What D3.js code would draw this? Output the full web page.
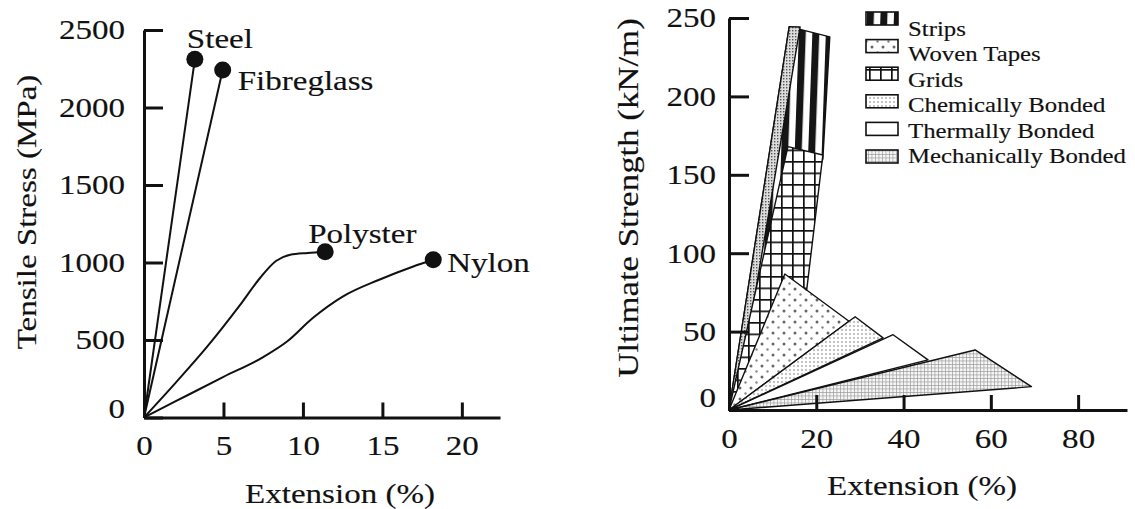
<!DOCTYPE html>
<html>
<head>
<meta charset="utf-8">
<script src="https://cdn.jsdelivr.net/npm/d3@7"></script>
<style>
  body { margin: 0; background: #fff; }
  svg { display: block; }
  .axis path, .axis line { stroke: #111; stroke-width: 3; }
</style>
</head>
<body>
<svg id="chart" width="1135" height="509"></svg>
<script>
// ---- data ----
// left panel: tensile stress (MPa) against extension (%)
const fibreNames = ["Steel", "Fibreglass", "Polyster", "Nylon"];
const steelCurve = [[0, 0], [3.2, 2311]];
const fibreglassCurve = [[0, 0], [4.95, 2242]];
const polysterCurve = [[0, 0], [2, 225], [4, 460], [6, 720], [7.3, 900], [8.3, 1010],
                       [9.2, 1050], [10.3, 1062], [11.4, 1070]];
const nylonCurve = [[0, 0], [2, 105], [5, 262], [7.5, 390], [9, 490], [10.6, 640],
                    [12.5, 780], [14.8, 889], [16.9, 973], [18.2, 1018]];
const stressTicks = [0, 500, 1000, 1500, 2000, 2500];
const extTicksL = [0, 5, 10, 15, 20];

// right panel: ultimate strength (kN/m) against extension (%)
const productNames = ["Strips", "Woven Tapes", "Grids", "Chemically Bonded",
                      "Thermally Bonded", "Mechanically Bonded"];
const stripsShape = [[0, 0], [13.8, 244.5], [23.1, 238], [21.5, 160]];
const stripsEdge = [[0, 0], [13.8, 244.5], [16.3, 244.3], [1.5, 0]];
const gridsShape = [[0, 0], [13.5, 168], [21.5, 162.6], [17.8, 76.5]];
const wovenShape = [[0, 0], [12.8, 86.7], [27.5, 56.6]];
const chemShape = [[0, 0], [28.9, 59.5], [35.3, 46]];
const thermShape = [[0, 0], [37.6, 48], [45.6, 32]];
const mechShape = [[0, 0], [56.4, 38.3], [69.3, 14.9]];
const strengthTicks = [0, 50, 100, 150, 200, 250];
const extTicksR = [0, 20, 40, 60, 80];

// ---- setup ----
const svg = d3.select("#chart");
const FONT = "'Liberation Serif', 'Times New Roman', serif";
const STRETCH = 1.18;   // the print face is wider than Times
const INK = "#111";

// put a text node in place, widened along its own direction
function stretch(sel) {
  sel.each(function() {
    const t = d3.select(this);
    const x = +t.attr("x") || 0, y = +t.attr("y") || 0;
    t.attr("x", 0).attr("y", 0)
      .attr("transform", `translate(${x},${y}) scale(${STRETCH},1)`);
  });
}

function label(parent, text, x, y, size, anchor, rot) {
  return parent.append("text")
      .text(text)
      .attr("transform", `translate(${x},${y}) rotate(${rot || 0}) scale(${STRETCH},1)`)
      .attr("text-anchor", anchor || "start")
      .attr("font-family", FONT)
      .attr("font-size", size)
      .attr("fill", INK)
      .attr("stroke", INK)
      .attr("stroke-width", 0.15);
}

function styleAxis(g, size) {
  g.attr("class", "axis");
  g.selectAll("text")
      .attr("font-family", FONT)
      .attr("font-size", size)
      .attr("fill", INK)
      .attr("stroke", INK)
      .attr("stroke-width", 0.15)
      .call(stretch);
}

// ---- patterns ----
const defs = svg.append("defs");

const pStrips = defs.append("pattern").attr("id", "p-strips")
    .attr("patternUnits", "userSpaceOnUse").attr("x", 800).attr("y", 0)
    .attr("width", 13.5).attr("height", 10)
    .attr("patternTransform", "skewX(-2)");
pStrips.append("rect").attr("width", 13.5).attr("height", 10).attr("fill", "#fff");
pStrips.append("rect").attr("width", 7).attr("height", 10).attr("fill", "#151515");

const pEdge = defs.append("pattern").attr("id", "p-edge")
    .attr("patternUnits", "userSpaceOnUse").attr("width", 3).attr("height", 3);
pEdge.append("rect").attr("width", 3).attr("height", 3).attr("fill", "#ddd");
pEdge.append("rect").attr("width", 1.4).attr("height", 1.4).attr("fill", "#555");

const pGrid = defs.append("pattern").attr("id", "p-grids")
    .attr("patternUnits", "userSpaceOnUse").attr("width", 11).attr("height", 11.5);
pGrid.append("rect").attr("width", 11).attr("height", 11.5).attr("fill", "#fff");
pGrid.append("path").attr("d", "M0,0.8H11M0.8,0V11.5")
    .attr("stroke", "#111").attr("stroke-width", 1.8);

const pWoven = defs.append("pattern").attr("id", "p-woven")
    .attr("patternUnits", "userSpaceOnUse").attr("width", 11).attr("height", 11);
pWoven.append("rect").attr("width", 11).attr("height", 11).attr("fill", "#fff");
pWoven.append("circle").attr("cx", 3).attr("cy", 3).attr("r", 1.5).attr("fill", "#666");
pWoven.append("circle").attr("cx", 8.5).attr("cy", 8.5).attr("r", 1.2).attr("fill", "#888");

const pChem = defs.append("pattern").attr("id", "p-chem")
    .attr("patternUnits", "userSpaceOnUse").attr("width", 4).attr("height", 4);
pChem.append("rect").attr("width", 4).attr("height", 4).attr("fill", "#fff");
pChem.append("circle").attr("cx", 2).attr("cy", 2).attr("r", 0.8).attr("fill", "#777");

const pMech = defs.append("pattern").attr("id", "p-mech")
    .attr("patternUnits", "userSpaceOnUse").attr("width", 3.5).attr("height", 3.5);
pMech.append("rect").attr("width", 3.5).attr("height", 3.5).attr("fill", "#f6f6f6");
pMech.append("path").attr("d", "M0,0.4H3.5M0.4,0V3.5")
    .attr("stroke", "#999").attr("stroke-width", 0.7);

const fills = {
  "Strips": "url(#p-strips)",
  "Woven Tapes": "url(#p-woven)",
  "Grids": "url(#p-grids)",
  "Chemically Bonded": "url(#p-chem)",
  "Thermally Bonded": "#fff",
  "Mechanically Bonded": "url(#p-mech)"
};

const fmt = d3.format("d");

// ================= left panel =================
const xL = d3.scaleLinear().domain([0, 22.4]).range([144, 500]);
const yL = d3.scaleLinear().domain([0, 2500]).range([417.5, 30]);

const left = svg.append("g").attr("id", "left");

const lineL = d3.line().x(d => xL(d[0])).y(d => yL(d[1])).curve(d3.curveMonotoneX);
const curves = [steelCurve, fibreglassCurve, polysterCurve, nylonCurve];

left.selectAll("path.curve")
  .data(curves)
    .enter()
  .append("path")
    .attr("class", "curve")
    .attr("d", lineL)
    .attr("fill", "none")
    .attr("stroke", INK)
    .attr("stroke-width", 2);

left.selectAll("circle.end")
  .data(curves.map(c => c[c.length - 1]))
    .enter()
  .append("circle")
    .attr("class", "end")
    .attr("cx", d => xL(d[0]))
    .attr("cy", d => yL(d[1]))
    .attr("r", 8.5)
    .attr("fill", INK);

// name offsets from each end point
const nameOffset = {
  "Steel": [-8, -11, "start"],
  "Fibreglass": [15, 20, "start"],
  "Polyster": [-17, -9, "start"],
  "Nylon": [14, 12, "start"]
};
fibreNames.forEach((n, i) => {
  const end = curves[i][curves[i].length - 1];
  const o = nameOffset[n];
  label(left, n, xL(end[0]) + o[0], yL(end[1]) + o[1], 28, o[2]);
});

left.append("g")
    .attr("transform", `translate(${xL(0)},0)`)
    .call(d3.axisLeft(yL).tickValues(stressTicks).tickFormat(fmt)
        .tickSize(-19).tickSizeOuter(0).tickPadding(19))
    .call(g => styleAxis(g, 28))
    .call(g => g.selectAll(".tick").filter(d => d === 0).select("text")
        .attr("transform", function() { return d3.select(this).attr("transform") + " translate(0,-9)"; }));

left.append("g")
    .attr("transform", `translate(0,${yL(0)})`)
    .call(d3.axisBottom(xL).tickValues(extTicksL).tickFormat(fmt)
        .tickSize(-15).tickSizeOuter(0).tickPadding(18))
    .call(g => styleAxis(g, 28));

label(left, "Extension (%)", 340, 503, 28, "middle");
label(left, "Tensile Stress (MPa)", 36, 212, 28, "middle", -90);

// ================= right panel =================
const xR = d3.scaleLinear().domain([0, 91.2]).range([729, 1127]);
const yR = d3.scaleLinear().domain([0, 250]).range([410, 18]);

const right = svg.append("g").attr("id", "right");
const poly = d3.line().x(d => xR(d[0])).y(d => yR(d[1])).curve(d3.curveLinearClosed);

const shapes = [
  {name: "Strips", pts: stripsShape},
  {name: "Strips edge", pts: stripsEdge, fill: "url(#p-edge)"},
  {name: "Grids", pts: gridsShape},
  {name: "Woven Tapes", pts: wovenShape},
  {name: "Chemically Bonded", pts: chemShape},
  {name: "Thermally Bonded", pts: thermShape},
  {name: "Mechanically Bonded", pts: mechShape}
];

right.selectAll("path.region")
  .data(shapes)
    .enter()
  .append("path")
    .attr("class", "region")
    .attr("d", d => poly(d.pts))
    .attr("fill", d => d.fill || fills[d.name])
    .attr("stroke", INK)
    .attr("stroke-width", 1.4)
    .attr("stroke-linejoin", "round");

right.append("g")
    .attr("transform", `translate(${xR(0)},0)`)
    .call(d3.axisLeft(yR).tickValues(strengthTicks).tickFormat(fmt)
        .tickSize(-20).tickSizeOuter(0).tickPadding(13))
    .call(g => styleAxis(g, 28))
    .call(g => g.selectAll(".tick").filter(d => d === 0).select("text")
        .attr("transform", function() { return d3.select(this).attr("transform") + " translate(0,-12)"; }));

right.append("g")
    .attr("transform", `translate(0,${yR(0)})`)
    .call(d3.axisBottom(xR).tickValues(extTicksR).tickFormat(fmt)
        .tickSize(-15).tickSizeOuter(0).tickPadding(18))
    .call(g => styleAxis(g, 28));

label(right, "Extension (%)", 922, 495, 28, "middle");
label(right, "Ultimate Strength (kN/m)", 638, 198, 29.5, "middle", -90);

// legend
const swatchY = d3.scaleLinear().domain([0, 5]).range([12, 150]);
const textY = d3.scaleLinear().domain([0, 5]).range([36, 163]);
const legend = right.append("g").attr("class", "legend");

legend.selectAll("rect")
  .data(productNames)
    .enter()
  .append("rect")
    .attr("x", 866)
    .attr("y", (d, i) => swatchY(i))
    .attr("width", 32)
    .attr("height", 13)
    .attr("fill", d => fills[d])
    .attr("stroke", INK)
    .attr("stroke-width", 1.6);

productNames.forEach((n, i) => label(legend, n, 908, textY(i), 21, "start"));
</script>
</body>
</html>
